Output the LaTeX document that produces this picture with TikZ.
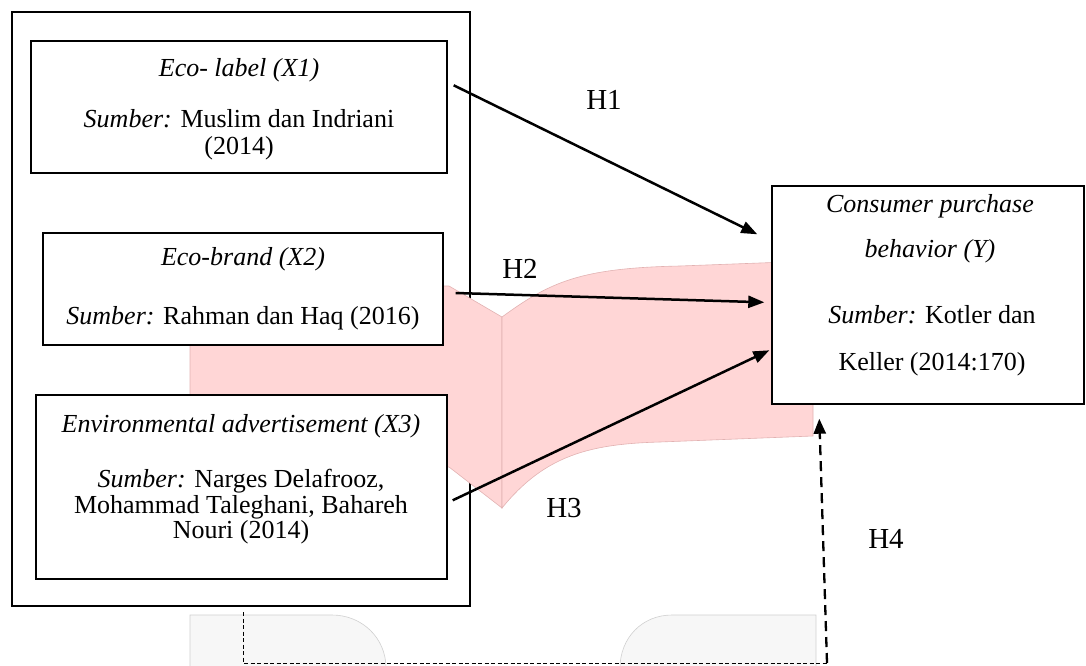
\documentclass[tikz,border=0pt]{standalone}
\usepackage{fontspec}
\setmainfont{Liberation Serif}
\usetikzlibrary{arrows.meta,calc}
\definecolor{pinkfill}{RGB}{255,214,214}
\definecolor{pinkedge}{RGB}{226,178,178}
\definecolor{greyfill}{RGB}{247,247,247}
\definecolor{greyedge}{RGB}{208,208,208}
\begin{document}
\begin{tikzpicture}[x=1pt,y=-1pt,
  box/.style={draw=black,line width=1.4pt,fill=white,inner sep=0pt},
  txt/.style={anchor=base,inner sep=0pt,font=\fontsize{26}{26}\selectfont},
  hlab/.style={anchor=base,inner sep=0pt,font=\fontsize{29}{29}\selectfont},
  arr/.style={line width=2.5pt,-{Triangle[length=16pt,width=12pt]}},
  dasharr/.style={line width=2.3pt,dash pattern=on 10pt off 6pt,-{Triangle[length=15pt,width=12pt]}},
  thindash/.style={line width=1pt,dash pattern=on 4pt off 2.5pt},
  ribbon/.style={fill=pinkfill,draw=pinkedge,line width=0.6pt},
  tab/.style={fill=greyfill,draw=greyedge,line width=0.6pt}]
\useasboundingbox (0,0) rectangle (1086,666);
% outer frame
\draw[line width=2.9pt] (12,12) rectangle (470,606);
% pink ribbon
\draw[ribbon] (190,286) -- (449,286) -- (502,317) -- (502,508) -- (449,467) -- (190,467) -- cycle;
\draw[ribbon] (502,317) .. controls (550,282) and (580,268) .. (680,266) -- (813,261)
  -- (813,436) -- (660,442) .. controls (590,444) and (545,455) .. (502,508) -- cycle;
% grey tabs
\draw[tab] (190,668) -- (190,615) -- (332,615) .. controls (362,615) and (386,638) .. (386,668);
\draw[tab] (620,668) .. controls (620,638) and (642,615) .. (672,615) -- (816,615) -- (816,668);
% boxes
\node[box,minimum width=416pt,minimum height=132pt] (x1) at (239,107) {};
\node[box,minimum width=400pt,minimum height=112pt] (x2) at (243,289) {};
\node[box,minimum width=411pt,minimum height=184pt] (x3) at (241.5,487) {};
\node[box,minimum width=312pt,minimum height=218pt] (y) at (928,295) {};
% texts
\node[txt] (x1a) at (239,77) {\textit{Eco- label (X1)}};
\node[txt] (x1b) at (239,128) {\textit{Sumber:} Muslim dan Indriani};
\node[txt] (x1c) at (239,154) {(2014)};
\node[txt] (x2a) at (243,265) {\textit{Eco-brand (X2)}};
\node[txt] (x2b) at (243,324) {\textit{Sumber:} Rahman dan Haq (2016)};
\node[txt] (x3a) at (241,432) {\textit{Environmental advertisement (X3)}};
\node[txt] (x3b) at (241,487) {\textit{Sumber:} Narges Delafrooz,};
\node[txt] (x3c) at (241,513) {Mohammad Taleghani, Bahareh};
\node[txt] (x3d) at (241,538) {Nouri (2014)};
\node[txt] (ya) at (930,212) {\textit{Consumer purchase}};
\node[txt] (yb) at (930,257) {\textit{behavior (Y)}};
\node[txt] (yc) at (932,323) {\textit{Sumber:} Kotler dan};
\node[txt] (yd) at (932,370) {Keller (2014:170)};
% dashed path
\coordinate (d1) at (243,612);
\coordinate (d2) at (243,663);
\coordinate (d3) at (827,663);
\draw[thindash] (d1) -- (d2) -- (d3);
% arrows
\draw[arr] ($(x1.north east)+(6,45)$) -- ($(y.north west)+(-14,49)$);
\draw[arr] ($(x2.east)+(12,4)$) -- ($(y.north west)+(-7,117)$);
\draw[arr] ($(x3.north east)+(5,106)$) -- ($(y.north west)+(-2,165)$);
\draw[dasharr] (d3) -- ($(y.south west)+(48,14)$);
% hypothesis labels
\node[hlab] (h1) at (604,110) {H1};
\node[hlab] (h2) at (520,278) {H2};
\node[hlab] (h3) at (564,517) {H3};
\node[hlab] (h4) at (886,548) {H4};
\end{tikzpicture}
\end{document}
